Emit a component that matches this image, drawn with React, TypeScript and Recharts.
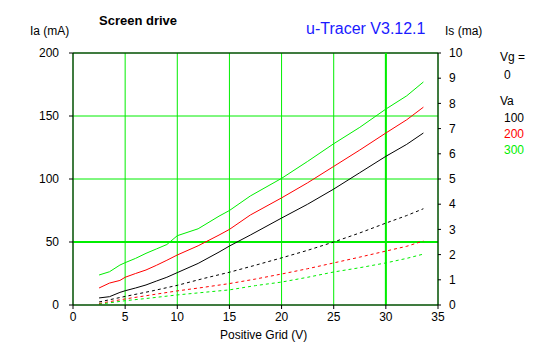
import { ComposedChart, Line, XAxis, YAxis, CartesianGrid, ReferenceLine } from 'recharts';

// Positive grid voltage (V)
const iaGrid = [2.5, 3.5, 4.5, 5, 6, 7, 8, 9, 10, 12, 14, 15, 17, 20, 22.5, 25, 27.5, 30, 32, 33.6];
// Anode current Ia (mA), Vg = 0
const ia100 = [5.6, 6.6, 10, 11.3, 13.5, 15.9, 19, 22, 25.7, 33, 42, 46.8, 55.5, 69, 80, 92, 105, 118, 127.5, 136.5];
const ia200 = [13.5, 17.4, 19.5, 22, 25, 27.8, 31.5, 35.5, 39.7, 47, 55.5, 60, 71.4, 85, 97, 110, 123, 136.5, 147, 157];
const ia300 = [23.8, 26.4, 31.7, 33.6, 37, 41, 44.5, 48, 55, 60.5, 70.5, 75, 86.5, 100.5, 114, 128, 141, 155.5, 166, 177];

const isGrid = [2.5, 5, 7.5, 10, 12.5, 15, 17.5, 20, 22.5, 25, 27.5, 30, 32, 33.6];
// Screen current Is (mA)
const is100 = [0.12, 0.34, 0.55, 0.78, 1.05, 1.3, 1.58, 1.87, 2.17, 2.5, 2.86, 3.25, 3.55, 3.82];
const is200 = [0.06, 0.24, 0.4, 0.56, 0.7, 0.85, 1.03, 1.23, 1.44, 1.67, 1.9, 2.14, 2.33, 2.54];
const is300 = [0.03, 0.17, 0.28, 0.4, 0.5, 0.6, 0.77, 0.91, 1.1, 1.31, 1.48, 1.67, 1.85, 2.02];

const xTicks = [0, 5, 10, 15, 20, 25, 30, 35];
const iaTicks = [0, 50, 100, 150, 200];
const isTicks = [0, 1, 2, 3, 4, 5, 6, 7, 8, 9, 10];
const vaLabels = ['100', '200', '300'];

const GREEN = '#00ee00';
const RED = '#ff0000';
const colors = ['#000000', RED, GREEN];
const font = '"Liberation Sans", Arial, sans-serif';

const iaTable = iaGrid.map((vg, i) => ({ vg, a: ia100[i], b: ia200[i], c: ia300[i] }));
const isTable = isGrid.map((vg, i) => ({ vg, a: is100[i], b: is200[i], c: is300[i] }));

const txt = (left: number, top: number, extra: React.CSSProperties = {}): React.CSSProperties => ({
  position: 'absolute', left, top, fontFamily: font, fontSize: 12, lineHeight: '14px', whiteSpace: 'nowrap', ...extra,
});

const App = () => {
  const tick = { fill: '#000', fontSize: 12, fontFamily: font };
  return (
    <div style={{ position: 'absolute', left: 0, top: 0, width: 547, height: 357, background: '#fff' }}>
      <ComposedChart width={547} height={357} margin={{ top: 53, right: 69, bottom: 22, left: 0 }}>
        <CartesianGrid yAxisId="ia" stroke={GREEN} strokeWidth={1} />
        <XAxis
          type="number"
          dataKey="vg"
          domain={[0, 35]}
          ticks={xTicks}
          height={30}
          stroke="#000"
          tick={tick}
          tickSize={4}
          tickMargin={3}
          allowDuplicatedCategory={false}
        />
        <YAxis
          yAxisId="ia"
          domain={[0, 200]}
          ticks={iaTicks}
          width={73}
          stroke="#000"
          tick={tick}
          tickSize={4}
          tickMargin={10}
        />
        <YAxis
          yAxisId="is"
          orientation="right"
          domain={[0, 10]}
          ticks={isTicks}
          width={40}
          stroke="#000"
          tick={tick}
          tickSize={3}
          tickMargin={8}
        />
        <ReferenceLine yAxisId="ia" y={200} stroke="#000" />
        <ReferenceLine yAxisId="ia" x={30} stroke={GREEN} strokeWidth={2} />
        <ReferenceLine yAxisId="ia" y={50} stroke={GREEN} strokeWidth={2} />
        {['a', 'b', 'c'].map((k, i) => (
          <Line key={'ia' + k} yAxisId="ia" data={iaTable} dataKey={k} stroke={colors[i]}
            strokeWidth={1} dot={false} type="linear" isAnimationActive={false} />
        ))}
        {['a', 'b', 'c'].map((k, i) => (
          <Line key={'is' + k} yAxisId="is" data={isTable} dataKey={k} stroke={colors[i]}
            strokeWidth={1} strokeDasharray="3 3" dot={false} type="linear" isAnimationActive={false} />
        ))}
      </ComposedChart>
      <div style={txt(99, 14, { fontWeight: 'bold', fontSize: 13 })}>Screen drive</div>
      <div style={txt(30, 24)}>Ia (mA)</div>
      <div style={txt(306, 20, { color: '#1a1aff', fontSize: 16, lineHeight: '18px' })}>u-Tracer V3.12.1</div>
      <div style={txt(445, 24)}>Is (ma)</div>
      <div style={txt(220, 328)}>Positive Grid (V)</div>
      <div style={txt(500, 50)}>Vg =</div>
      <div style={txt(504, 68)}>0</div>
      <div style={txt(500, 94)}>Va</div>
      {vaLabels.map((v, i) => (
        <div key={v} style={txt(504, 111 + i * 16, { color: colors[i] })}>{v}</div>
      ))}
    </div>
  );
};

export default App;
